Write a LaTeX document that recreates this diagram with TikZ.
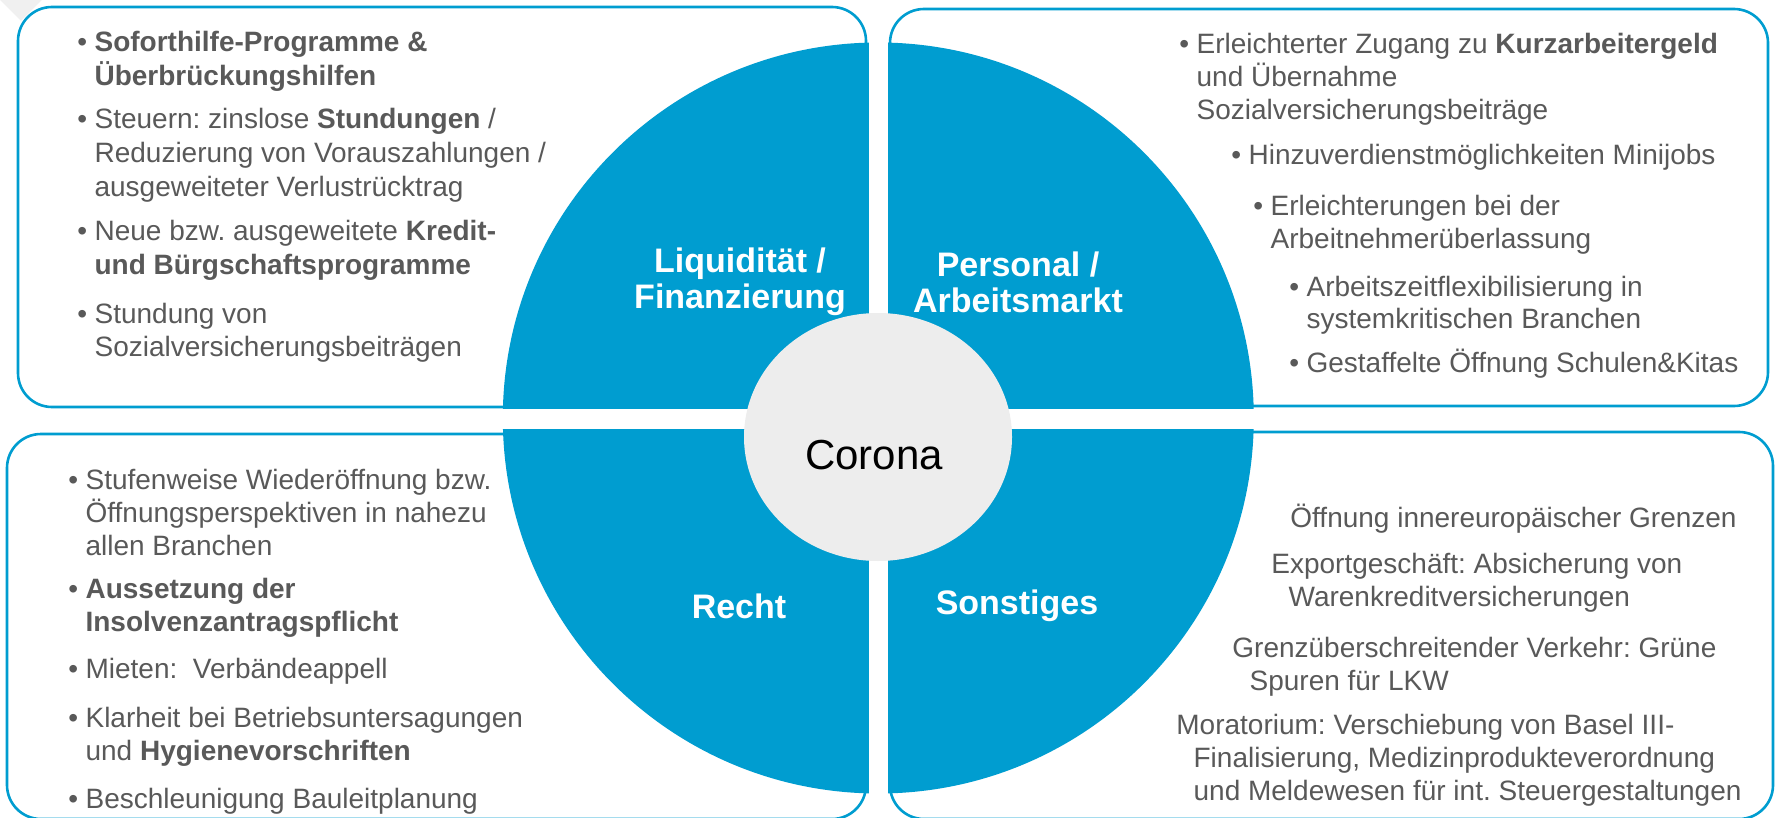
\documentclass[tikz,border=0pt]{standalone}
\usepackage{fontspec}
\setmainfont{Liberation Sans}
\usetikzlibrary{positioning}
\definecolor{cblue}{RGB}{0,157,208}
\definecolor{cgray}{RGB}{237,237,237}
\definecolor{tgray}{RGB}{89,89,89}
\frenchspacing
\newcommand{\bul}{\makebox[8.6pt][l]{•}}
\newcommand{\nl}{\cr\hspace*{8.6pt}}
\newcommand{\lines}[2][16.5pt]{\vtop{\baselineskip=#1\halign{##\hfil\cr#2\crcr}}}

\begin{document}
\begin{tikzpicture}[x=0.5pt,y=-0.5pt,
  box/.style={draw=cblue,line width=1.3pt,fill=white,rounded corners=17pt},
  txt/.style={anchor=base west,inner sep=0pt,text=tgray,font=\fontsize{14}{16.5}\selectfont},
  head/.style={align=center,text=white,inner sep=0pt,font=\fontsize{17}{18}\selectfont\bfseries}]
\useasboundingbox (0,0) rectangle (1777,818);
\fill[gray!12] (0,0) -- (42,0) -- (21,21) -- cycle;

% the four boxes
\draw[box] (18,7) rectangle (866,407);
\draw[box] (890,9) rectangle (1768,406);
\draw[box] (7,434) rectangle (866,819);
\draw[box] (890,432) rectangle (1773,819);

% circle in four parts
\begin{scope}
  \clip (878.3,418) circle[radius=375.5];
  \fill[cblue] (500,40) rectangle (868.7,409);
  \fill[cblue] (888,40) rectangle (1256,409);
  \fill[cblue] (500,429) rectangle (868.7,796);
  \fill[cblue] (888,429) rectangle (1256,796);
\end{scope}
\fill[cgray] (878,437) ellipse[x radius=134,y radius=124];
\node[font=\fontsize{21}{24}\selectfont] (corona) at (874,455) {Corona};

\node[head] (liq) at (740,282) {Liquidität /\\Finanzierung};
\node[head] (pers) at (1018,282) {Personal /\\Arbeitsmarkt};
\node[head] (recht) at (739,606) {Recht};
\node[head] (sonst) at (1017,606) {Sonstiges};

% top left
\node[txt] (l1) at (77,52) {\lines[16.9pt]{\bul\textbf{Soforthilfe-Programme \&}\nl\textbf{Überbrückungshilfen}}};
\node[txt] (l2) at (77,129) {\lines[16.9pt]{\bul Steuern: zinslose \textbf{Stundungen} /\nl Reduzierung von Vorauszahlungen /\nl ausgeweiteter Verlustrücktrag}};
\node[txt] (l3) at (77,241) {\lines[16.9pt]{\bul Neue bzw. ausgeweitete \textbf{Kredit-}\nl\textbf{und Bürgschaftsprogramme}}};
\node[txt] (l4) at (77,323) {\lines[16.9pt]{\bul Stundung von\nl Sozialversicherungsbeiträgen}};

% top right
\node[txt] (r1) at (1179,54) {\lines{\bul Erleichterter Zugang zu \textbf{Kurzarbeitergeld}\nl und Übernahme\nl Sozialversicherungsbeiträge}};
\node[txt] (r2) at (1231,165) {\bul Hinzuverdienstmöglichkeiten Minijobs};
\node[txt] (r3) at (1253,216) {\lines{\bul Erleichterungen bei der\nl Arbeitnehmerüberlassung}};
\node[txt] (r4) at (1289,296) {\lines{\bul Arbeitszeitflexibilisierung in\nl systemkritischen Branchen}};
\node[txt] (r5) at (1289,372) {\bul Gestaffelte Öffnung Schulen\&Kitas};

% bottom left
\node[txt] (b1) at (68,489) {\lines{\bul Stufenweise Wiederöffnung bzw.\nl Öffnungsperspektiven in nahezu\nl allen Branchen}};
\node[txt] (b2) at (68,598) {\lines{\bul\textbf{Aussetzung der}\nl\textbf{Insolvenzantragspflicht}}};
\node[txt] (b3) at (68,678) {\bul Mieten:\ \ Verbändeappell};
\node[txt] (b4) at (68,727) {\lines{\bul Klarheit bei Betriebsuntersagungen\nl und \textbf{Hygienevorschriften}}};
\node[txt] (b5) at (68,808) {\bul Beschleunigung Bauleitplanung};

% bottom right
\node[txt] (s1) at (1290,527) {Öffnung innereuropäischer Grenzen};
\node[txt] (s2) at (1271,573) {\lines{Exportgeschäft: Absicherung von\nl Warenkreditversicherungen}};
\node[txt] (s3) at (1232,657) {\lines{Grenzüberschreitender Verkehr: Grüne\nl Spuren für LKW}};
\node[txt] (s4) at (1176,734) {\lines{Moratorium: Verschiebung von Basel III-\nl Finalisierung, Medizinprodukteverordnung\nl und Meldewesen für int. Steuergestaltungen}};
\end{tikzpicture}
\end{document}
